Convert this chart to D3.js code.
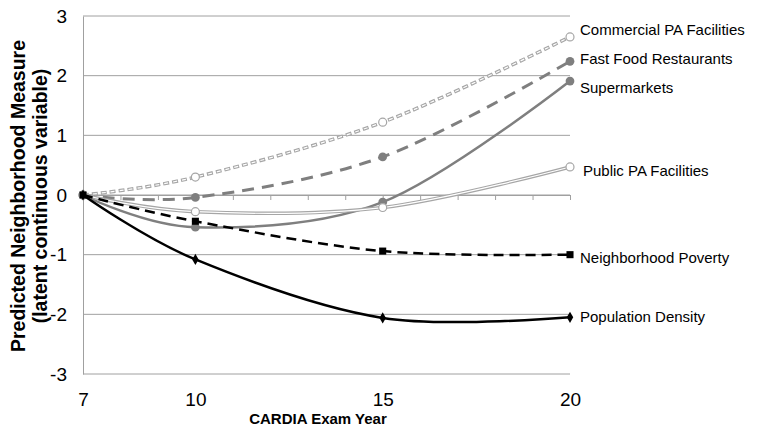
<!DOCTYPE html>
<html>
<head>
<meta charset="utf-8">
<script src="https://cdn.jsdelivr.net/npm/d3@7"></script>
<style>
  body { margin: 0; background: #fff; }
  text { font-family: Arial, "Liberation Sans", sans-serif; }
</style>
</head>
<body>
<div id="mychart"></div>
<script>
// predicted neighborhood measures across CARDIA exam years

const chartTarget = "#mychart"
const chartWidth = 757
const chartHeight = 434

// data
const years = [7, 10, 15, 20]
const yearTicks = [7, 10, 15, 20]
const yTicks = [-3, -2, -1, 0, 1, 2, 3]
const seriesNames = [
  "Commercial PA Facilities",
  "Fast Food Restaurants",
  "Supermarkets",
  "Public PA Facilities",
  "Neighborhood Poverty",
  "Population Density"
]
const commercialPA = [0, 0.30, 1.22, 2.65]
const fastFood = [0, -0.04, 0.64, 2.24]
const supermarkets = [0, -0.54, -0.12, 1.91]
const publicPA = [0, -0.28, -0.21, 0.47]
const poverty = [0, -0.44, -0.94, -1.00]
const popDensity = [0, -1.08, -2.06, -2.05]

const seriesValues = [commercialPA, fastFood, supermarkets, publicPA, poverty, popDensity]

// styles per series (same order as seriesNames)
const lightGray = "#a6a6a6"
const darkGray = "#7f7f7f"
const styles = [
  { color: lightGray, width: 3.5, dash: "6,3", innerDash: "4,5", marker: "openCircle" },
  { color: darkGray, width: 3, dash: "12,8", marker: "circle" },
  { color: darkGray, width: 2.5, dash: null, marker: "circle" },
  { color: lightGray, width: 3.5, dash: null, innerDash: "none", marker: "openCircle", labelDx: 3 },
  { color: "#000", width: 2.5, dash: "10,6", marker: "square" },
  { color: "#000", width: 2.5, dash: null, marker: "diamond" }
]
// label positions (px)
const labelY = [30, 59, 88, 171, 258, 317]

// margins
const marginTop = 16
const marginLeft = 83
const plotRight = 570
const plotBottom = 374

// scales
const xScale = d3.scaleLinear([7, 20], [marginLeft, plotRight])
const yScale = d3.scaleLinear([-3, 3], [plotBottom, marginTop])

const svg = d3.select(chartTarget)
  .append("svg")
  .attr("width", chartWidth)
  .attr("height", chartHeight)
  .attr("viewBox", [0, 0, chartWidth, chartHeight])

// gridlines
svg.append("g")
  .selectAll("line")
  .data(yTicks)
  .join("line")
  .attr("x1", marginLeft)
  .attr("x2", plotRight)
  .attr("y1", d => yScale(d))
  .attr("y2", d => yScale(d))
  .attr("stroke", "#a0a0a0")
  .attr("stroke-width", 1)

// y axis
svg.append("g")
  .attr("transform", `translate(${marginLeft},0)`)
  .call(d3.axisLeft(yScale).tickValues(yTicks).tickSize(0).tickPadding(16).tickFormat(d => String(d)))
  .call(g => g.select(".domain").attr("stroke", "#a0a0a0"))
  .call(g => g.selectAll("text").attr("font-size", "19px").attr("fill", "#000"))

// x axis crossing at zero, with yearly tick marks
svg.append("g")
  .attr("transform", `translate(0,${yScale(0)})`)
  .call(d3.axisBottom(xScale).ticks(13).tickSize(5).tickFormat(""))
  .call(g => g.select(".domain").attr("stroke", "#a0a0a0"))
  .call(g => g.selectAll(".tick line").attr("stroke", "#a0a0a0"))

// x tick labels below plot
svg.append("g")
  .attr("transform", `translate(0,${plotBottom})`)
  .call(d3.axisBottom(xScale).tickValues(yearTicks).tickSize(0).tickPadding(19))
  .call(g => g.select(".domain").remove())
  .call(g => g.selectAll("text").attr("font-size", "19px").attr("fill", "#000"))

// axis titles
svg.append("text")
  .attr("x", 318)
  .attr("y", 424)
  .attr("text-anchor", "middle")
  .attr("font-size", "15px")
  .attr("font-weight", "bold")
  .text("CARDIA Exam Year")

svg.append("text")
  .attr("transform", "translate(25,196) rotate(-90)")
  .attr("text-anchor", "middle")
  .attr("font-size", "19.5px")
  .attr("font-weight", "bold")
  .call(t => t.append("tspan").attr("x", 0).attr("dy", 0).text("Predicted Neighborhood Measure"))
  .call(t => t.append("tspan").attr("x", 0).attr("dy", 22).text("(latent continuous variable)"))

// lines (Excel-style smoothing)
const line = d3.line()
  .x(d => xScale(d[0]))
  .y(d => yScale(d[1]))
  .curve(d3.curveCardinal.tension(0))

const drawOrder = [2, 1, 0, 3, 4, 5]
drawOrder.forEach(i => {
  const s = styles[i]
  const pts = years.map((yr, j) => [yr, seriesValues[i][j]])
  const g = svg.append("g")
  g.append("path")
    .attr("d", line(pts))
    .attr("fill", "none")
    .attr("stroke", s.color)
    .attr("stroke-width", s.width)
    .attr("stroke-dasharray", s.dash)
  // double line look: thin white core
  if (s.innerDash) {
    g.append("path")
      .attr("d", line(pts))
      .attr("fill", "none")
      .attr("stroke", "#fff")
      .attr("stroke-width", 1.2)
      .attr("stroke-dasharray", s.innerDash)
      .attr("stroke-dashoffset", s.innerDash === "none" ? null : -1)
  }
  // markers
  const m = g.append("g")
    .selectAll("path")
    .data(pts)
    .join("path")
    .attr("transform", d => `translate(${xScale(d[0])},${yScale(d[1])})`)
  if (s.marker === "openCircle") {
    m.attr("d", d3.symbol(d3.symbolCircle, 50)).attr("fill", "#fff").attr("stroke", s.color).attr("stroke-width", 1.2)
  } else if (s.marker === "circle") {
    m.attr("d", d3.symbol(d3.symbolCircle, 60)).attr("fill", s.color)
  } else if (s.marker === "square") {
    m.attr("d", d3.symbol(d3.symbolSquare, 50)).attr("fill", "#000")
  } else {
    m.attr("d", d3.symbol(d3.symbolDiamond, 36)).attr("fill", "#000")
  }
})

// series labels
svg.append("g")
  .selectAll("text")
  .data(seriesNames)
  .join("text")
  .attr("x", (d, i) => xScale(20) + 10 + (styles[i].labelDx || 0))
  .attr("y", (d, i) => labelY[i])
  .attr("dy", "0.35em")
  .attr("font-size", "15px")
  .attr("fill", "#000")
  .text(d => d)
</script>
</body>
</html>
